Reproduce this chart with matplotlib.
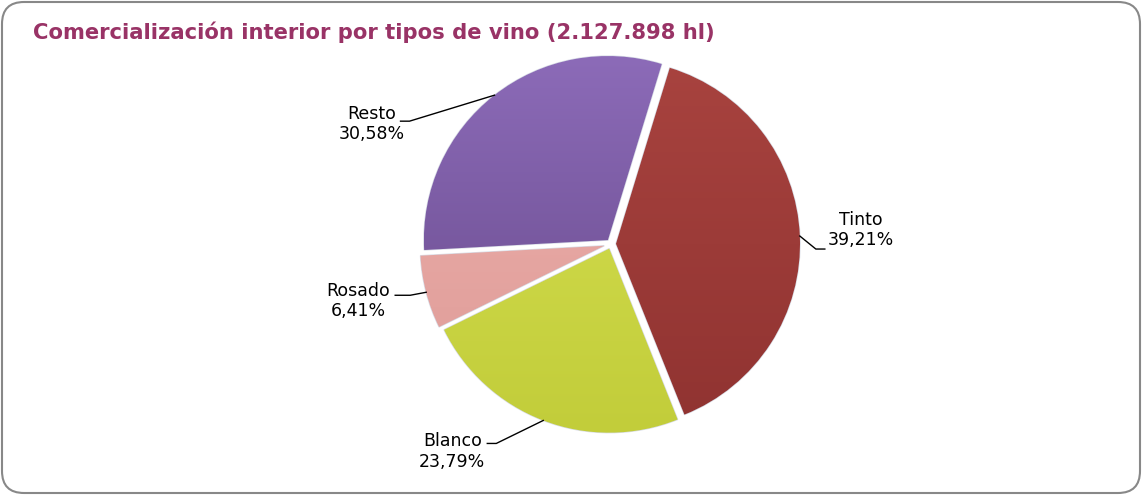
import matplotlib.pyplot as plt
from matplotlib.patches import FancyBboxPatch
from matplotlib.colors import LinearSegmentedColormap
import numpy as np

W, H = 1142, 495

# data
tipos = ["Tinto", "Blanco", "Rosado", "Resto"]
cuotas = [39.21, 23.79, 6.41, 30.58]
colores = ["#9C3B39", "#CCD744", "#E6A4A1", "#7A58A1"]
# light (top) / dark (bottom) tones for the soft shading
claros = ["#A8433F", "#D6E052", "#EDB0AC", "#8C6BB8"]
oscuros = ["#903331", "#C2CD3A", "#DE9B97", "#664889"]
explode = [5, 5, 7, 5]  # pie takes this in data units (pixels here)
titulo = "Comercialización interior por tipos de vino (2.127.898 hl)"

# leader line layout, pixels relative to arc anchor: elbow, end, text centre
leaders = {
    "Tinto": ((16, -13), (9, 0), (61, 6)),
    "Blanco": ((-47, -23), (-9, 0), (-91, -31)),
    "Rosado": ((-16, -3), (-15, 0), (-68, -9)),
    "Resto": ((-85, -26), (-9, 0), (-123, -29)),
}

fig = plt.figure(figsize=(W / 100, H / 100), dpi=100)
ax = fig.add_axes([0, 0, 1, 1])

cx, cy, r = 611, H - 244, 184
wedges, _ = ax.pie(cuotas, colors=colores, explode=explode, startangle=73,
                   counterclock=False, center=(cx, cy), radius=r,
                   wedgeprops=dict(edgecolor="#D8DCE6", linewidth=1.0))

grad = np.linspace(0, 1, 256).reshape(-1, 1)
for w, c1, c2 in zip(wedges, claros, oscuros):
    cmap = LinearSegmentedColormap.from_list("g", [c2, c1])
    bx0, by0 = w.center[0] - w.r, w.center[1] - w.r
    im = ax.imshow(grad, cmap=cmap, origin="lower", aspect="auto",
                   extent=(bx0, bx0 + 2 * w.r, by0, by0 + 2 * w.r), zorder=w.get_zorder() + 0.1)
    im.set_clip_path(w)

for w, name, val in zip(wedges, tipos, cuotas):
    mid = np.deg2rad((w.theta1 + w.theta2) / 2)
    ax_x = w.center[0] + w.r * np.cos(mid)
    ax_y = w.center[1] + w.r * np.sin(mid)
    (ex, ey), (hx, hy), (tx, ty) = leaders[name]
    xs = [ax_x, ax_x + ex, ax_x + ex + hx]
    ys = [ax_y, ax_y + ey, ax_y + ey + hy]
    ax.plot(xs, ys, color="black", lw=1)
    ax.text(ax_x + tx, ax_y + ty, f"{name}\n{val:.2f}%".replace(".", ","),
            ha="center", va="center", fontsize=12.5, linespacing=1.15,
            color="black")

ax.text(33, H - 32, titulo, ha="left", va="center", fontsize=15.2,
        fontweight="bold", color="#993366")

box = FancyBboxPatch((2, 2), W - 4, H - 4,
                     boxstyle="round,pad=0,rounding_size=22",
                     fc="none", ec="#888888", lw=1.5)
ax.add_patch(box)

ax.set_xlim(0, W)
ax.set_ylim(0, H)
ax.set_aspect("auto")
ax.axis("off")

fig.savefig("out.png", dpi=100)
